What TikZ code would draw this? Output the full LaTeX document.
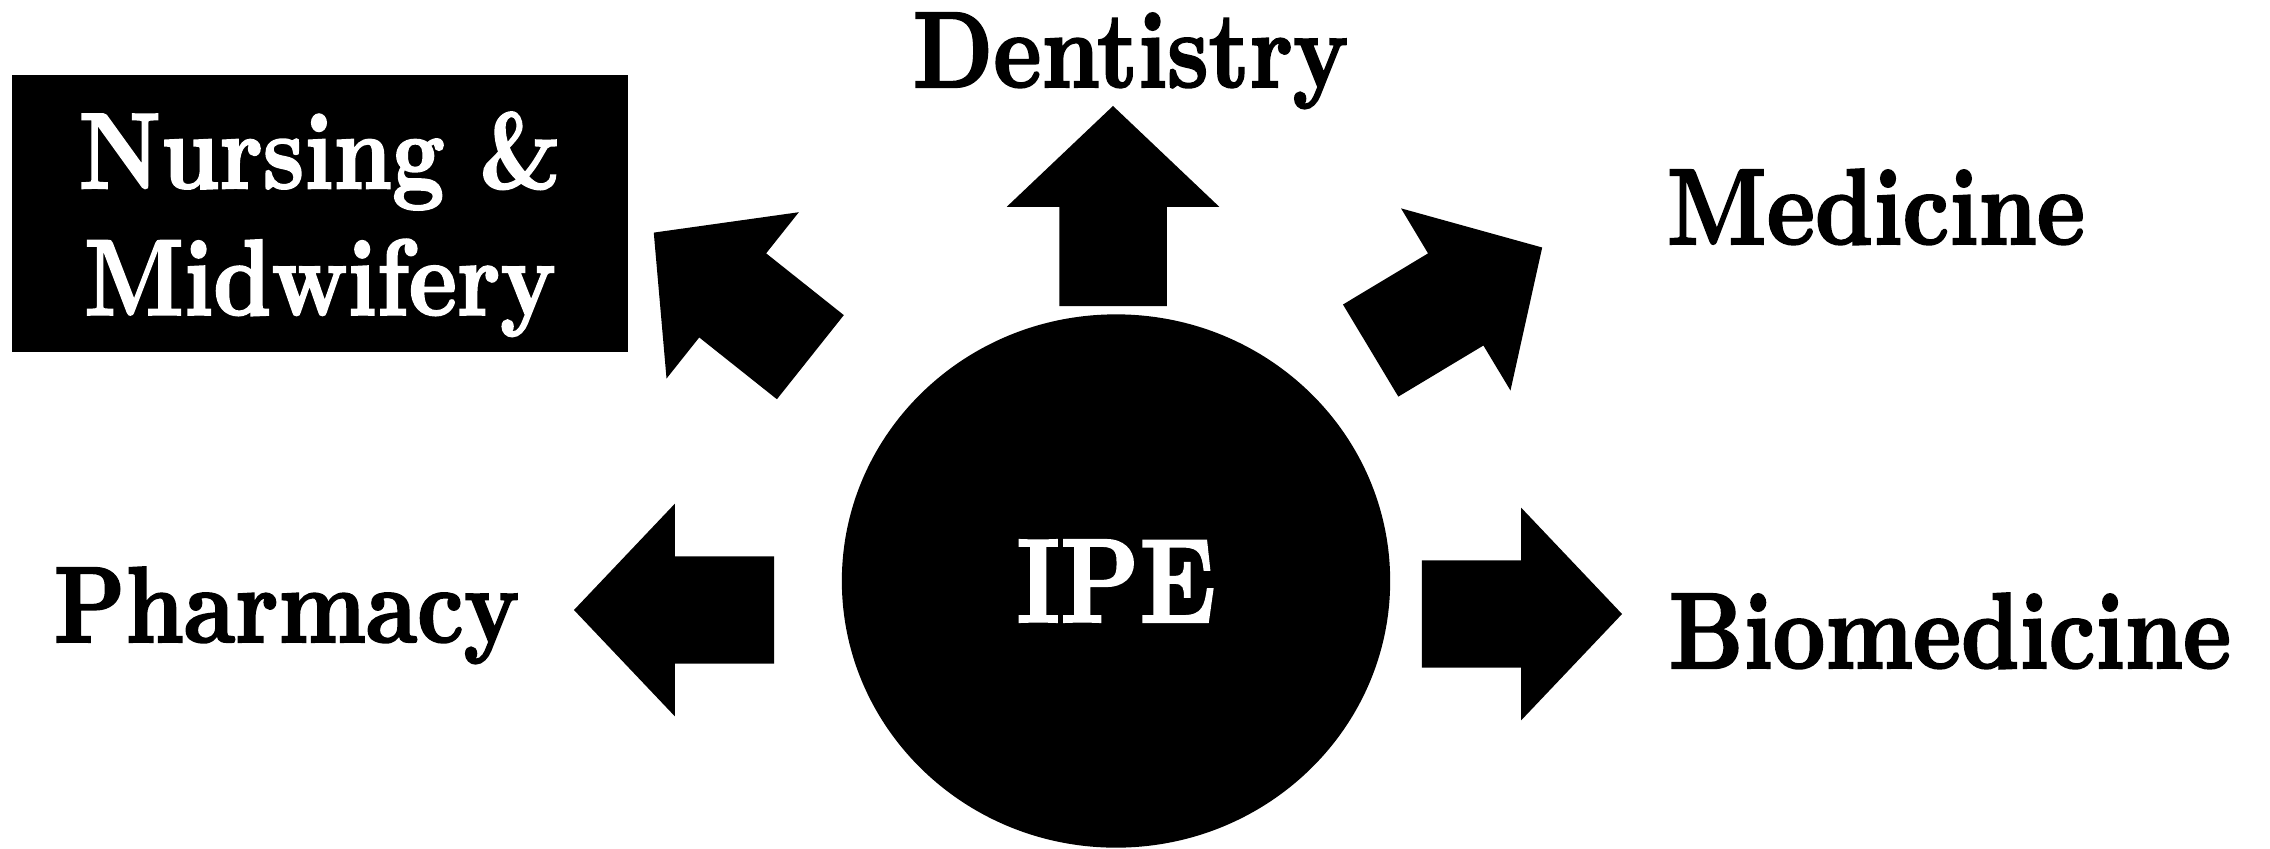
\documentclass[tikz,border=0pt]{standalone}
\usepackage{fontspec}
\usepackage{graphicx}
\usepackage{tikz}
\usetikzlibrary{shapes.geometric}
\usetikzlibrary{shapes.arrows}
\newfontfamily\fieldfont{lmroman10-bold.otf}[FakeBold=2]
\tikzset{blockarrow/.style = {single arrow, fill=black, draw=none,
                              inner xsep=0pt, inner ysep=0.53cm,
                              single arrow head extend=0.525cm,
                              single arrow tip angle=93,
                              minimum width=2.11cm, minimum height=2cm},
         field/.style = {inner sep=0pt, anchor=base,
                         font=\fieldfont\fontsize{26}{36}\selectfont}}
\newcommand{\tallword}[1]{\scalebox{1}[1.18]{#1}}

\begin{document}
\begin{tikzpicture}[x=0.01cm, y=-0.01cm]
    \useasboundingbox (0, 0) rectangle (2270, 848);

    \node [ellipse, fill=black, text=white, inner sep=0pt,
           minimum width=5.48cm, minimum height=5.33cm,
           font=\fieldfont\fontsize{28.7}{34}\selectfont] (ipe) at (1116, 581) {\tallword{IPE}};

    \node [rectangle, fill=black, text=white, inner sep=0pt, align=center,
           minimum width=6.15cm, minimum height=2.77cm, text depth=0pt,
           font=\fieldfont\fontsize{26}{36}\selectfont] (nursing) at (320, 213.5)
          {\tallword{Nursing \&}\\\tallword{Midwifery}};

    \node [field] (dentistry) at (1130.5, 87) {\tallword{Dentistry}};
    \node [field] (medicine) at (1876, 244) {\tallword{Medicine}};
    \node [field] (pharmacy) at (286.5, 642) {\tallword{Pharmacy}};
    \node [field] (biomedicine) at (1950, 668) {\tallword{Biomedicine}};

    \node [blockarrow, rotate=90, anchor=tip] (todentistry) at (1113, 105) {};
    \node [blockarrow, rotate=31, anchor=tip] (tomedicine) at (1543, 247) {};
    \node [blockarrow, rotate=141.5, anchor=tip] (tonursing) at (653, 232) {};
    \node [blockarrow, rotate=180, anchor=tip] (topharmacy) at (573, 610) {};
    \node [blockarrow, anchor=tip] (tobiomedicine) at (1623, 614) {};
\end{tikzpicture}
\end{document}
